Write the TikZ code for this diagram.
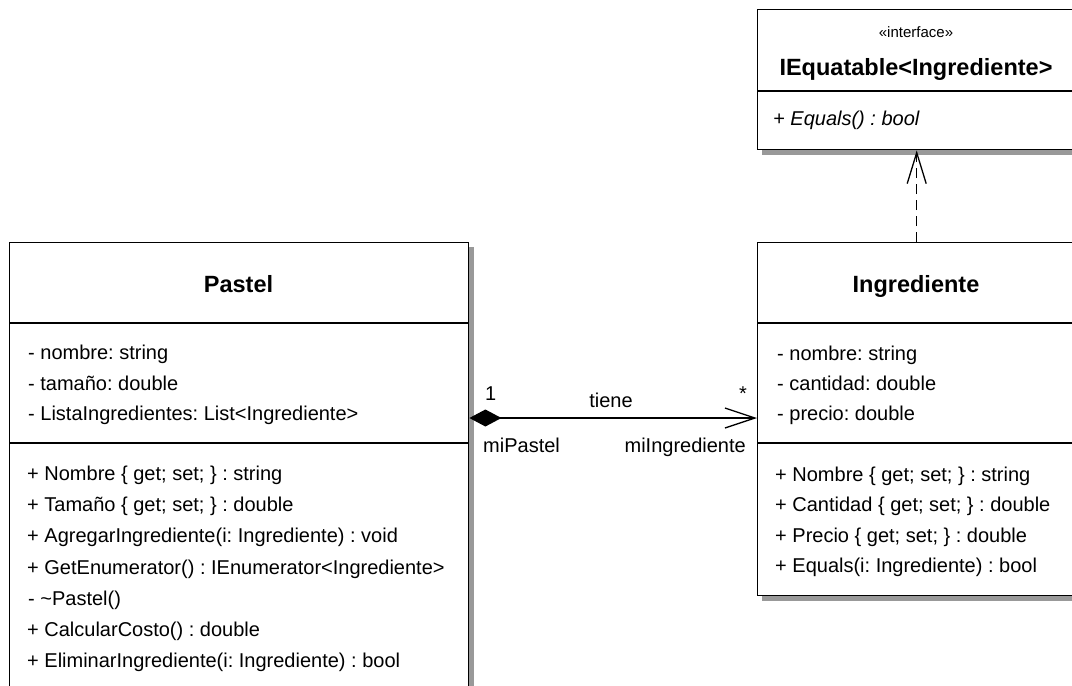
\documentclass[tikz,border=0pt]{standalone}
\usepackage{fontspec}
\setmainfont{Liberation Sans}
\usetikzlibrary{arrows.meta}
\frenchspacing
\begin{document}
\begin{tikzpicture}[x=1pt,y=-1pt,
  box/.style={draw=black, fill=white, anchor=north west, inner sep=0pt, line width=1.4pt},
  shadow/.style={fill=black!40},
  sepline/.style={draw=black, line width=1.4pt},
  txt/.style={anchor=base west, inner sep=0pt, font=\fontsize{20}{24}\selectfont},
  itxt/.style={anchor=base west, inner sep=0pt, font=\fontsize{20}{24}\selectfont\itshape},
  ttl/.style={anchor=base, inner sep=0pt, font=\fontsize{23.5}{28}\selectfont\bfseries},
  stereo/.style={anchor=base, inner sep=0pt, font=\fontsize{15}{18}\selectfont},
  lbl/.style={inner sep=0pt, font=\fontsize{20}{24}\selectfont},
  assoc/.style={draw=black, line width=1.3pt, {Diamond[length=32pt,width=17pt]}-{Straight Barb[length=30pt,width=20pt,line width=1.3pt]}},
  realize/.style={draw=black, line width=1.3pt, dash pattern=on 10pt off 6pt, -{Straight Barb[length=31pt,width=19pt,line width=1.3pt]}},
]
\useasboundingbox (0,0) rectangle (1072,686);
\clip (0,0) rectangle (1072,686);
\fill[white] (0,0) rectangle (1072,686);

% shadows
\fill[shadow] (14,247) rectangle (474,700);
\fill[shadow] (762,14) rectangle (1080,155);
\fill[shadow] (762,247) rectangle (1080,601);

% boxes
\node[box, minimum width=459pt, minimum height=470pt] (pastel) at (9,242) {};
\node[box, minimum width=318pt, minimum height=140pt] (iface) at (757,9) {};
\node[box, minimum width=318pt, minimum height=353pt] (ingr) at (757,242) {};

% separators
\draw[sepline] (9,323) -- (468,323);
\draw[sepline] (9,443) -- (468,443);
\draw[sepline] (757,91) -- (1075,91);
\draw[sepline] (757,323) -- (1075,323);
\draw[sepline] (757,443) -- (1075,443);

% interface
\node[stereo] (st) at (916,37) {«interface»};
\node[ttl] (ift) at (916,75) {IEquatable<Ingrediente>};
\node[itxt] (ifm) at (773,125) {+ Equals() : bool};

% Pastel
\node[ttl] (pt) at (238.5,292) {Pastel};
\node[txt] (pa1) at (28,359) {- nombre: string};
\node[txt] (pa2) at (28,390) {- tamaño: double};
\node[txt] (pa3) at (28,420) {- ListaIngredientes: List<Ingrediente>};
\node[txt] (pm1) at (27,480) {+ Nombre \{ get; set; \} : string};
\node[txt] (pm2) at (27,511) {+ Tamaño \{ get; set; \} : double};
\node[txt] (pm3) at (27,542) {+ AgregarIngrediente(i: Ingrediente) : void};
\node[txt] (pm4) at (27,574) {+ GetEnumerator() : IEnumerator<Ingrediente>};
\node[txt] (pm5) at (28,605) {- \textasciitilde Pastel()};
\node[txt] (pm6) at (27,636) {+ CalcularCosto() : double};
\node[txt] (pm7) at (27,667) {+ EliminarIngrediente(i: Ingrediente) : bool};

% Ingrediente
\node[ttl] (it) at (916,292) {Ingrediente};
\node[txt] (ia1) at (777,360) {- nombre: string};
\node[txt] (ia2) at (777,390) {- cantidad: double};
\node[txt] (ia3) at (777,420) {- precio: double};
\node[txt] (im1) at (775,481) {+ Nombre \{ get; set; \} : string};
\node[txt] (im2) at (775,511) {+ Cantidad \{ get; set; \} : double};
\node[txt] (im3) at (775,542) {+ Precio \{ get; set; \} : double};
\node[txt] (im4) at (775,572) {+ Equals(i: Ingrediente) : bool};

% connectors
\path (pastel.north east) ++(0,176) coordinate (pA);
\path (ingr.north west) ++(0,176) coordinate (iA);
\draw[assoc] (pA) -- (iA);
\draw[realize] (ingr.north) -- (iface.south);

% association labels
\node[lbl, anchor=base west] (m1) at (485,400) {1};
\node[lbl, anchor=base] (nm) at (611,407) {tiene};
\node[lbl, anchor=base east] (m2) at (747,400) {*};
\node[lbl, anchor=base west] (r1) at (483,452) {miPastel};
\node[lbl, anchor=base east] (r2) at (746,452) {miIngrediente};
\end{tikzpicture}
\end{document}
